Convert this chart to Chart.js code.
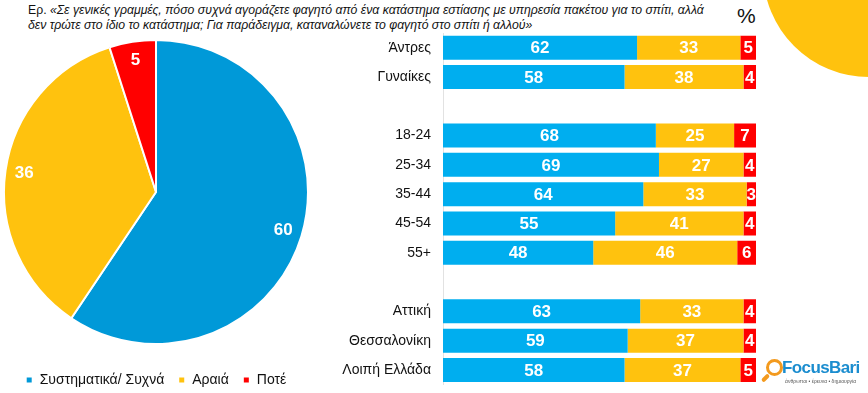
<!DOCTYPE html>
<html>
<head>
<meta charset="utf-8">
<script src="https://cdn.jsdelivr.net/npm/chart.js@4.4.1/dist/chart.umd.min.js"></script>
<style>
  html, body { margin: 0; padding: 0; width: 868px; height: 393px; overflow: hidden; background: #fff; font-family: "Liberation Sans", Arial, sans-serif; }
  #title { position: absolute; left: 28px; top: 3px; font-size: 12.25px; line-height: 14.5px; color: #111; font-style: italic; white-space: nowrap; }
  #title span { font-style: normal; }
  #pct { position: absolute; left: 737px; top: 4px; font-size: 21px; color: #111; }
  #blob { position: absolute; left: 763px; top: -135px; width: 212px; height: 212px; border-radius: 50%; background: #FFC20E; }
  #pieWrap { position: absolute; left: -19px; top: 0; width: 350px; height: 397px; }
  #barWrap { position: absolute; left: 330px; top: 0; width: 440px; height: 405px; }
  #logo { position: absolute; left: 760px; top: 356px; width: 108px; height: 37px; }
  #logo .ring { position: absolute; left: 6px; top: 3px; width: 11px; height: 11px; border: 3px solid #F39A1E; border-radius: 50%; }
  #logo .handle { position: absolute; left: 1px; top: 20px; width: 9px; height: 4px; background: #F39A1E; transform: rotate(-45deg); border-radius: 2px; }
  #logo .name { position: absolute; left: 22px; top: 2px; font-size: 17px; font-weight: bold; color: #1B8DCF; letter-spacing: -0.6px; }
  #logo .sub { position: absolute; left: 25px; top: 22px; font-size: 5px; color: #555; white-space: nowrap; }
</style>
</head>
<body>
<div id="blob"></div>
<div id="title"><span>Ερ.</span> «Σε γενικές γραμμές, πόσο συχνά αγοράζετε φαγητό από ένα κατάστημα εστίασης με υπηρεσία πακέτου για το σπίτι, αλλά<br>δεν τρώτε στο ίδιο το κατάστημα; Για παράδειγμα, καταναλώνετε το φαγητό στο σπίτι ή αλλού»</div>
<div id="pct">%</div>
<div id="pieWrap"><canvas id="pie" width="350" height="397"></canvas></div>
<div id="barWrap"><canvas id="bars" width="440" height="405"></canvas></div>
<div id="logo"><div class="ring"></div><div class="handle"></div><div class="name">FocusBari</div><div class="sub">άνθρωποι • έρευνα • δημιουργία</div></div>

<script>
// συνολικά
const pieLabels = ['Συστηματικά/ Συχνά', 'Αραιά', 'Ποτέ']
const pieValues = [60, 36, 5]
const pieColors = ['#0099D8', '#FFC20E', '#FF0000']

// ανά ομάδα (κενές γραμμές = διαχωριστικά)
const groups = ['Άντρες', 'Γυναίκες', '', '18-24', '25-34', '35-44', '45-54', '55+', '', 'Αττική', 'Θεσσαλονίκη', 'Λοιπή Ελλάδα']
const often  = [62, 58, null, 68, 69, 64, 55, 48, null, 63, 59, 58]
const rarely = [33, 38, null, 25, 27, 33, 41, 46, null, 33, 37, 37]
const never  = [5, 4, null, 7, 4, 3, 4, 6, null, 4, 4, 5]
const barColors = ['#00AEEF', '#FFC20E', '#FF0000']

const FONT = '"Liberation Sans", Arial, sans-serif'
Chart.defaults.font.family = FONT
Chart.defaults.color = '#111'

// τιμές μέσα στα κομμάτια της πίτας
const pieValuePlugin = {
  id: 'pieValues',
  afterDatasetsDraw(chart) {
    const ctx = chart.ctx
    const meta = chart.getDatasetMeta(0)
    ctx.save()
    ctx.fillStyle = '#fff'
    ctx.font = 'bold 17px ' + FONT
    ctx.textAlign = 'center'
    ctx.textBaseline = 'middle'
    meta.data.forEach((arc, i) => {
      const mid = (arc.startAngle + arc.endAngle) / 2
      const r = arc.outerRadius * 0.875
      ctx.fillText(pieValues[i], arc.x + Math.cos(mid) * r, arc.y + Math.sin(mid) * r)
    })
    ctx.restore()
  }
}

new Chart(document.getElementById('pie'), {
  type: 'pie',
  data: {
    labels: pieLabels,
    datasets: [{
      data: pieValues,
      backgroundColor: pieColors,
      borderColor: '#fff',
      borderWidth: 2,
      radius: 152
    }]
  },
  options: {
    responsive: false,
    animation: false,
    layout: { padding: { top: 25, bottom: 0, left: 0, right: 0 } },
    plugins: {
      tooltip: { enabled: false },
      legend: {
        position: 'bottom',
        labels: {
          boxWidth: 7,
          boxHeight: 7,
          padding: 14,
          color: '#111',
          font: { size: 14 }
        }
      }
    }
  },
  plugins: [pieValuePlugin]
})

// τιμές μέσα στις μπάρες
const barValuePlugin = {
  id: 'barValues',
  afterDatasetsDraw(chart) {
    const ctx = chart.ctx
    ctx.save()
    ctx.fillStyle = '#fff'
    ctx.font = 'bold 17px ' + FONT
    ctx.textAlign = 'center'
    ctx.textBaseline = 'middle'
    chart.data.datasets.forEach((ds, d) => {
      chart.getDatasetMeta(d).data.forEach((bar, i) => {
        if (ds.data[i] == null) return
        ctx.fillText(ds.data[i], (bar.x + bar.base) / 2, bar.y + 1)
      })
    })
    ctx.restore()
  }
}

new Chart(document.getElementById('bars'), {
  type: 'bar',
  data: {
    labels: groups,
    datasets: [
      { label: pieLabels[0], data: often, backgroundColor: barColors[0] },
      { label: pieLabels[1], data: rarely, backgroundColor: barColors[1] },
      { label: pieLabels[2], data: never, backgroundColor: barColors[2] }
    ]
  },
  options: {
    indexAxis: 'y',
    responsive: false,
    animation: false,
    layout: { padding: { top: 33, bottom: 0, left: 0, right: 14 } },
    datasets: { bar: { categoryPercentage: 1, barPercentage: 0.82 } },
    scales: {
      x: { stacked: true, min: 0, max: 100, display: false },
      y: {
        stacked: true,
        grid: { display: false, drawTicks: false },
        border: { display: true, color: '#e2e2e2', width: 1 },
        ticks: { padding: 12, color: '#111', font: { size: 14 } },
        afterFit(scale) { scale.width = 113 }
      }
    },
    plugins: {
      legend: { display: false },
      tooltip: { enabled: false }
    }
  },
  plugins: [barValuePlugin]
})
</script>
</body>
</html>
